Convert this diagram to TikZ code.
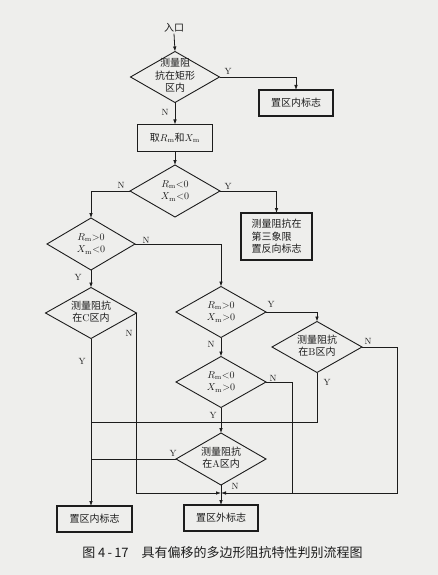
\documentclass[tikz,border=0pt]{standalone}
\usepackage{fontspec}
\usetikzlibrary{shapes.geometric,arrows.meta}
\newfontfamily\cjk{Noto Sans CJK SC}
\definecolor{bg}{RGB}{238,238,236}
\definecolor{ink}{RGB}{28,28,28}
\newcommand\dtx[1]{\raisebox{-2.5pt}[0pt][0pt]{\makebox[0pt]{\begin{tabular}{@{}c@{}}#1\end{tabular}}}}
\newcommand\Rm{$R_{\mathrm m}$}
\newcommand\Xm{$X_{\mathrm m}$}
\tikzset{
  dia/.style={diamond, draw=ink, line width=0.9pt, inner sep=0pt, outer sep=0pt,
    minimum width=90pt, minimum height=51pt, text=ink,
    font=\fontsize{10pt}{12.5pt}\selectfont\cjk},
  box/.style={draw=ink, line width=1.1pt, inner sep=0pt, outer sep=0pt,
    minimum width=75pt, minimum height=26pt, text=ink,
    font=\fontsize{10pt}{12.5pt}\selectfont\cjk},
  lab/.style={font=\fontsize{9pt}{9pt}\selectfont, inner sep=0pt, text=ink},
  con/.style={draw=ink, line width=0.8pt},
  arr/.style={con, -{Latex[length=5pt,width=3.6pt]}}
}
\begin{document}
\begin{tikzpicture}[x=1pt,y=-1pt]
\fill[bg] (0,0) rectangle (438,575);
\useasboundingbox (0,0) rectangle (438,575);

% nodes
\node[font=\fontsize{10pt}{12pt}\selectfont\cjk, text=ink, inner sep=1pt] (in) at (174,28) {入口};
\node[dia, minimum width=89pt] (d1) at (175,77) {\dtx{测量阻\\抗在矩形\\区内}};
\node[box, minimum width=74pt] (b1) at (296,103) {置区内标志};
\node[box, minimum width=75pt, minimum height=27pt] (b2) at (175,138) {取\Rm 和\Xm};
\node[dia, minimum height=52pt] (d2) at (175,191) {\dtx{\Rm${<}0$\\\Xm${<}0$}};
\node[box, minimum width=71pt, minimum height=47pt, align=left] (b3) at (276.5,236.5) {测量阻抗在\\第三象限\\置反向标志};
\node[dia, minimum width=88pt, minimum height=52pt] (d3) at (91,244) {\dtx{\Rm${>}0$\\\Xm${<}0$}};
\node[dia, minimum width=91pt] (d4) at (91,313) {\dtx{测量阻抗\\在\textrm{C}区内}};
\node[dia] (d5) at (221,312) {\dtx{\Rm${>}0$\\\Xm${>}0$}};
\node[dia] (d6) at (317,347) {\dtx{测量阻抗\\在\textrm{B}区内}};
\node[dia] (d7) at (221,382) {\dtx{\Rm${<}0$\\\Xm${>}0$}};
\node[dia, minimum height=52pt] (d8) at (221,459) {\dtx{测量阻抗\\在\textrm{A}区内}};
\node[box] (b4) at (94.5,519) {置区内标志};
\node[box, minimum width=74pt] (b5) at (221,518) {置区外标志};

\coordinate (j) at (221,493);
\coordinate (cr) at (397,493);
\coordinate (c7) at (292,493);
\coordinate (cy) at (91,422);

% connectors
\draw[arr] (in.south) -- (d1.north);
\draw[arr] (d1.east) -| (b1.north);
\draw[arr] (d1.south) -- (b2.north);
\draw[arr] (b2.south) -- (d2.north);
\draw[arr] (d2.east) -| (b3.north);
\draw[arr] (d2.west) -| (d3.north);
\draw[arr] (d3.south) -- (d4.north);
\draw[arr] (d3.east) -| (d5.north);
\draw[arr] (d4.south) -- (d4.south |- b4.north);
\draw[arr] (d4.east) |- (j);
\draw[arr] (d5.east) -| (d6.north);
\draw[arr] (d5.south) -- (d7.north);
\draw[arr] (d6.east) -| (cr) -- (j);
\draw[con] (d7.east) -| (c7);
\draw[con] (d6.south) |- (cy);
\draw[arr] (d7.south) -- (d8.north);
\draw[con] (d8.west) -- (d8.west -| cy);
\draw[arr] (d8.south) -- (b5.north);

% labels
\node[lab] (l1) at (228,71) {Y};
\node[lab] (l2) at (165,112) {N};
\node[lab] (l3) at (121,185) {N};
\node[lab] (l4) at (228,186) {Y};
\node[lab] (l5) at (146,240) {N};
\node[lab] (l6) at (78,277) {Y};
\node[lab] (l7) at (271,304) {Y};
\node[lab] (l8) at (129,333) {N};
\node[lab] (l9) at (82,361) {Y};
\node[lab] (l10) at (368,341) {N};
\node[lab] (l11) at (211,344) {N};
\node[lab] (l12) at (273,378) {N};
\node[lab] (l13) at (327,382) {Y};
\node[lab] (l14) at (213,415) {Y};
\node[lab] (l15) at (173,453) {Y};
\node[lab] (l16) at (235,486) {N};

% caption
\node[font=\fontsize{13pt}{13pt}\selectfont\cjk, text=ink] (cap) at (222.5,553) {图 4\,-\,17\quad 具有偏移的多边形阻抗特性判别流程图};
\end{tikzpicture}
\end{document}
